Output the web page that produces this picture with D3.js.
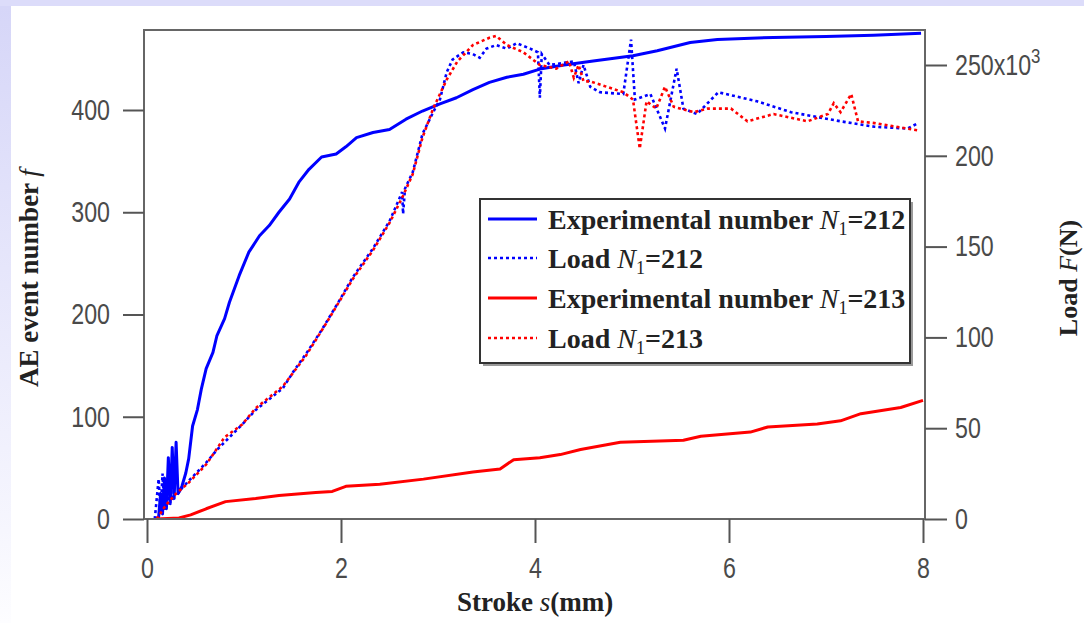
<!DOCTYPE html>
<html><head><meta charset="utf-8">
<script src="https://cdn.jsdelivr.net/npm/d3@7"></script>
<style>
html,body{margin:0;padding:0;background:#fff;}
svg{display:block;}
</style></head>
<body>
<svg id="c" width="1084" height="623"></svg>
<script>
// ---------------- data ----------------
const xTicks = [0, 2, 4, 6, 8];
const leftTicks = [0, 100, 200, 300, 400];
const rightTicks = [0, 50, 100, 150, 200, 250];

// AE event number, N1=212 (left axis)
const aeStroke212 = [0.08,0.12,0.14,0.16,0.18,0.20,0.22,0.24,0.26,0.28,0.30,0.32,0.34,0.36,0.40,0.43,0.47,0.52,0.56,0.61,0.68,0.72,0.80,0.85,0.95,1.05,1.16,1.26,1.36,1.47,1.57,1.67,1.80,1.95,2.05,2.16,2.33,2.50,2.67,2.84,3.02,3.19,3.36,3.53,3.71,3.88,4.05,4.30,4.60,5.01,5.26,5.60,5.88,6.46,7.00,7.49,7.98];
const aeCount212  = [0,2,25,5,40,10,60,15,70,20,75,25,28,32,45,59,91,107,127,147,163,179,196,212,238,261,277,287,300,313,330,342,354,357,364,373,378,381,391,399,406,412,420,427,432,435,440,444,448,453,458,466,469,471,472,473,475];

// Load, N1=212 (right axis, kN)
const loadStroke212 = [0.08,0.12,0.14,0.16,0.18,0.20,0.22,0.24,0.26,0.28,0.32,0.36,0.43,0.52,0.61,0.72,0.85,0.98,1.12,1.26,1.40,1.52,1.64,1.80,1.98,2.12,2.33,2.50,2.63,2.64,2.66,2.74,2.84,2.95,3.02,3.09,3.15,3.26,3.36,3.43,3.50,3.60,3.71,3.81,3.95,4.03,4.05,4.07,4.15,4.40,4.45,4.50,4.57,4.67,4.91,4.99,5.03,5.19,5.34,5.46,5.53,5.67,5.89,6.29,6.64,7.15,7.50,7.84,7.95];
const load212       = [0,22,3,25,5,18,8,20,10,15,14,17,21,26,31,38,45,52,60,66,72,82,91,104,120,133,149,164,180,168,182,191,212,224,231,246,253,257,256,254,259,261,259,262,259,257,232,256,250,252,240,250,238,235,234,264,231,234,215,248,226,223,235,230,224,219,216,215,218];

// AE event number, N1=213 (left axis)
const aeStroke213 = [0.10,0.33,0.45,0.61,0.81,1.12,1.36,1.74,1.91,2.05,2.40,2.85,3.36,3.64,3.78,4.05,4.26,4.47,4.88,5.53,5.71,6.22,6.40,6.91,7.15,7.36,7.77,8.00];
const aeCount213  = [0,1,4,10,17,20,23,26,27,32,34,39,46,49,58,60,63,68,75,77,81,85,90,93,96,103,109,116];

// Load, N1=213 (right axis, kN)
const loadStroke213 = [0.10,0.20,0.30,0.43,0.61,0.80,0.98,1.12,1.26,1.40,1.64,1.85,2.12,2.33,2.50,2.64,2.74,2.84,2.95,3.02,3.09,3.20,3.29,3.36,3.53,3.60,3.71,3.88,4.05,4.22,4.35,4.40,4.45,4.50,4.57,4.91,5.01,5.08,5.15,5.25,5.34,5.43,5.64,5.78,6.02,6.19,6.46,6.81,7.02,7.08,7.15,7.26,7.33,7.50,7.95];
const load213       = [0,8,14,20,30,45,52,61,67,73,90,108,132,148,163,178,190,210,226,234,242,252,257,261,265,266,261,257,250,248,252,243,250,241,241,235,231,204,230,226,238,227,224,226,226,219,223,219,223,229,224,234,219,218,214];

const legendLabels = ["Experimental number ", "Load ", "Experimental number ", "Load "];
const legendIds = ["212", "212", "213", "213"];

// ---------------- drawing ----------------
const svg = d3.select("#c");
const defs = svg.append("defs");
const lg = defs.append("linearGradient").attr("id","leftStrip").attr("x1",0).attr("y1",0).attr("x2",0).attr("y2",1);
lg.append("stop").attr("offset","0%").attr("stop-color","#d6d6f8");
lg.append("stop").attr("offset","85%").attr("stop-color","#f6f6fe");
lg.append("stop").attr("offset","100%").attr("stop-color","#fdfdff");

svg.append("rect").attr("x",0).attr("y",0).attr("width",1084).attr("height",623).attr("fill","#dcdcfa");
svg.append("rect").attr("x",0).attr("y",6).attr("width",11).attr("height",617).attr("fill","url(#leftStrip)");
svg.append("rect").attr("x",11).attr("y",6).attr("width",1073).attr("height",617).attr("fill","#ffffff");

const frame = {l:144, r:925, t:30, b:519};
const x = d3.scaleLinear().domain([0,8]).range([147,923]);
const yL = d3.scaleLinear().domain([0,400]).range([519,110]);
const yR = d3.scaleLinear().domain([0,250]).range([519,65]);

const tickFont = "'Liberation Sans',Arial,sans-serif";
const serif = "'Liberation Serif','Times New Roman',serif";
const axisColor = "#555";
const narrow = 0.8;

// plot lines
const clip = defs.append("clipPath").attr("id","plotClip");
clip.append("rect").attr("x",frame.l).attr("y",frame.t).attr("width",frame.r-frame.l).attr("height",frame.b-frame.t);
const plot = svg.append("g").attr("clip-path","url(#plotClip)");

function series(xs, ys) {
  return xs.map((d,i)=>[d, ys[i]]);
}
const lineL = d3.line().x(d=>x(d[0])).y(d=>yL(d[1]));
const lineR = d3.line().x(d=>x(d[0])).y(d=>yR(d[1]));

plot.append("path").datum(series(aeStroke212, aeCount212)).attr("d", lineL)
  .attr("fill","none").attr("stroke","#0000ff").attr("stroke-width",3).attr("stroke-linejoin","round");
plot.append("path").datum(series(aeStroke213, aeCount213)).attr("d", lineL)
  .attr("fill","none").attr("stroke","#ff0000").attr("stroke-width",3).attr("stroke-linejoin","round");
plot.append("path").datum(series(loadStroke212, load212)).attr("d", lineR)
  .attr("fill","none").attr("stroke","#0000ff").attr("stroke-width",2.6).attr("stroke-dasharray","3,3");
plot.append("path").datum(series(loadStroke213, load213)).attr("d", lineR)
  .attr("fill","none").attr("stroke","#ff0000").attr("stroke-width",2.6).attr("stroke-dasharray","3,3");

// frame
svg.append("rect").attr("x",frame.l).attr("y",frame.t).attr("width",frame.r-frame.l).attr("height",frame.b-frame.t)
  .attr("fill","none").attr("stroke","#666").attr("stroke-width",2);

function styleAxis(g){
  g.select(".domain").remove();
  g.selectAll(".tick line").attr("stroke",axisColor).attr("stroke-width",2);
  g.selectAll(".tick text").attr("fill","#4a4a4a").style("font-family",tickFont).style("font-size","29px")
    .each(function(){
      const t = d3.select(this);
      const tx = +t.attr("x") || 0;
      t.attr("x",0).attr("transform",`translate(${tx},0) scale(${narrow},1)`);
    });
}

// left axis
const gL = svg.append("g").attr("transform",`translate(${frame.l},0)`)
  .call(d3.axisLeft(yL).tickValues(leftTicks).tickSize(21).tickPadding(13));
styleAxis(gL);

// right axis
const gR = svg.append("g").attr("transform",`translate(${frame.r},0)`)
  .call(d3.axisRight(yR).tickValues(rightTicks).tickSize(22).tickPadding(8));
gR.selectAll(".tick text").filter(d=>d===250).each(function(){
  const t = d3.select(this);
  t.text("250x10");
  t.append("tspan").attr("dy","-0.55em").style("font-size","21px").text("3");
});
styleAxis(gR);

// bottom axis
const gB = svg.append("g").attr("transform",`translate(0,${frame.b})`)
  .call(d3.axisBottom(x).tickValues(xTicks).tickSize(24).tickPadding(14));
styleAxis(gB);

// axis titles
const yt = svg.append("text").attr("transform","translate(38,278) rotate(-90)")
  .attr("text-anchor","middle").attr("fill","#222").style("font-family",serif).style("font-size","27px").style("font-weight","bold");
yt.append("tspan").text("AE event number ");
yt.append("tspan").style("font-style","italic").style("font-weight","normal").text("f");

const rt = svg.append("text").attr("transform","translate(1077,278) rotate(-90)")
  .attr("text-anchor","middle").attr("fill","#222").style("font-family",serif).style("font-size","26px").style("font-weight","bold");
rt.append("tspan").text("Load ");
rt.append("tspan").style("font-style","italic").style("font-weight","normal").text("F");
rt.append("tspan").text("(N)");

const xt = svg.append("text").attr("x",535).attr("y",611)
  .attr("text-anchor","middle").attr("fill","#222").style("font-family",serif).style("font-size","27px").style("font-weight","bold");
xt.append("tspan").text("Stroke ");
xt.append("tspan").style("font-style","italic").style("font-weight","normal").text("s");
xt.append("tspan").text("(mm)");

// legend
const leg = {x:480, y:199, w:430, h:164};
svg.append("rect").attr("x",leg.x+3).attr("y",leg.y+3).attr("width",leg.w).attr("height",leg.h).attr("fill","#9a9a9a");
svg.append("rect").attr("x",leg.x).attr("y",leg.y).attr("width",leg.w).attr("height",leg.h)
  .attr("fill","#fff").attr("stroke","#333").attr("stroke-width",2);
const legColors = ["#0000ff","#0000ff","#ff0000","#ff0000"];
const legDash = [null,"3,3",null,"3,3"];
const rowY = [219, 258, 298, 338];
legendLabels.forEach((lab,i)=>{
  svg.append("line").attr("x1",488).attr("x2",537).attr("y1",rowY[i]).attr("y2",rowY[i])
    .attr("stroke",legColors[i]).attr("stroke-width",legDash[i]?2.6:3.2)
    .attr("stroke-dasharray",legDash[i]);
  const t = svg.append("text").attr("x",548).attr("y",rowY[i]+10).attr("fill","#222")
    .style("font-family",serif).style("font-size","28px").style("font-weight","bold");
  t.append("tspan").text(lab);
  t.append("tspan").style("font-style","italic").style("font-weight","normal").text("N");
  t.append("tspan").attr("dy",6).style("font-size","18px").style("font-weight","normal").text("1");
  t.append("tspan").attr("dy",-6).text("=" + legendIds[i]);
});
</script>
</body></html>
